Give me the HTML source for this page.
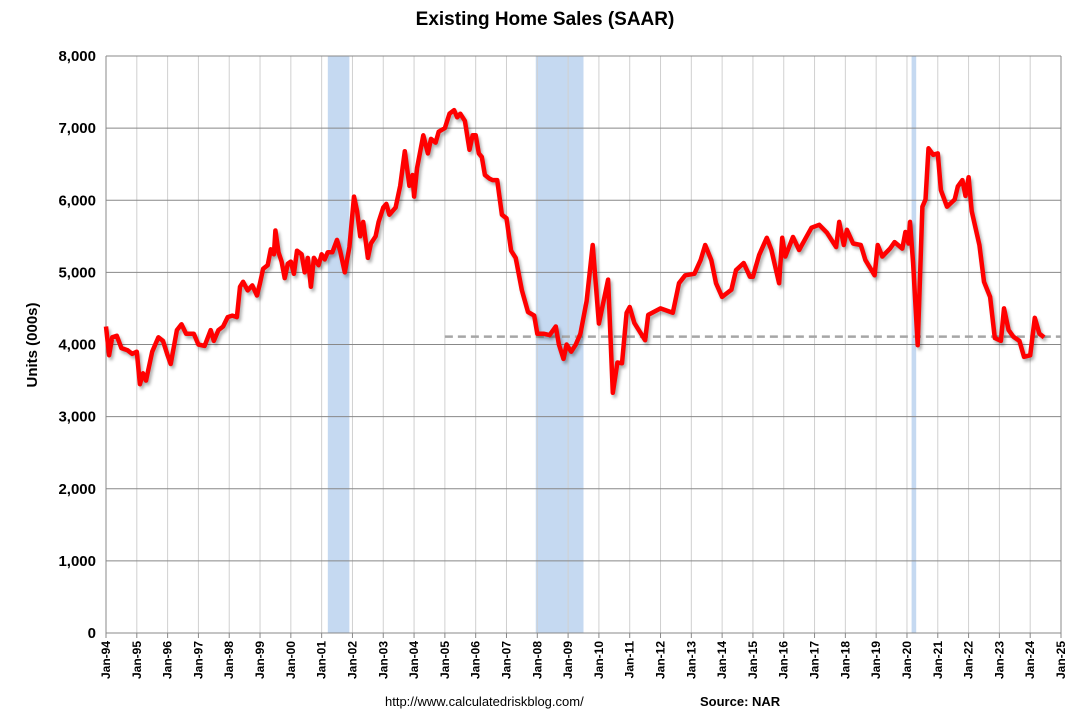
<!DOCTYPE html>
<html><head><meta charset="utf-8"><style>
body{margin:0;background:#fff;font-family:"Liberation Sans",Arial,sans-serif;}
</style></head><body>
<svg id="c" width="1084" height="717" xmlns="http://www.w3.org/2000/svg" style="display:block">
<defs><filter id="sh" x="-5%" y="-5%" width="110%" height="110%"><feGaussianBlur stdDeviation="1.5"/></filter></defs>
<text x="545" y="25" text-anchor="middle" font-size="19" font-weight="bold" fill="#000">Existing Home Sales (SAAR)</text>
<text transform="translate(37,345) rotate(-90)" text-anchor="middle" font-size="15" font-weight="bold">Units (000s)</text>
<text x="385" y="706" font-size="13">http://www.calculatedriskblog.com/</text>
<text x="700" y="706" font-size="13" font-weight="bold">Source: NAR</text>
</svg>
<script>
const dates=[1994.0,1994.1,1994.2,1994.35,1994.5,1994.7,1994.85,1995.0,1995.1,1995.2,1995.3,1995.5,1995.7,1995.85,1996.0,1996.1,1996.3,1996.45,1996.6,1996.85,1997.0,1997.2,1997.4,1997.5,1997.65,1997.8,1997.95,1998.1,1998.25,1998.35,1998.45,1998.6,1998.75,1998.9,1999.0,1999.1,1999.25,1999.35,1999.45,1999.5,1999.6,1999.7,1999.8,1999.9,2000.0,2000.1,2000.2,2000.35,2000.45,2000.55,2000.65,2000.75,2000.9,2001.0,2001.1,2001.2,2001.35,2001.5,2001.6,2001.75,2001.9,2002.05,2002.15,2002.25,2002.35,2002.5,2002.6,2002.75,2002.85,2003.0,2003.1,2003.2,2003.4,2003.55,2003.7,2003.85,2003.95,2004.0,2004.1,2004.3,2004.45,2004.55,2004.7,2004.8,2005.0,2005.15,2005.3,2005.4,2005.5,2005.65,2005.8,2005.9,2006.0,2006.1,2006.2,2006.3,2006.45,2006.55,2006.7,2006.85,2007.0,2007.15,2007.3,2007.5,2007.7,2007.9,2008.0,2008.2,2008.4,2008.6,2008.7,2008.85,2008.95,2009.1,2009.25,2009.4,2009.6,2009.8,2010.0,2010.3,2010.45,2010.6,2010.75,2010.9,2011.0,2011.15,2011.5,2011.6,2012.0,2012.4,2012.6,2012.8,2013.1,2013.3,2013.45,2013.65,2013.8,2014.0,2014.3,2014.45,2014.7,2014.9,2015.0,2015.2,2015.45,2015.6,2015.85,2015.95,2016.05,2016.3,2016.5,2016.9,2017.15,2017.4,2017.7,2017.8,2017.95,2018.05,2018.25,2018.5,2018.65,2018.95,2019.05,2019.2,2019.45,2019.6,2019.85,2019.95,2020.05,2020.1,2020.2,2020.35,2020.5,2020.6,2020.7,2020.85,2021.0,2021.1,2021.3,2021.55,2021.65,2021.8,2021.9,2022.0,2022.1,2022.35,2022.5,2022.7,2022.85,2023.05,2023.15,2023.3,2023.45,2023.65,2023.8,2024.0,2024.15,2024.3,2024.45];
const sales=[4250,3850,4100,4120,3950,3920,3870,3900,3450,3600,3500,3900,4100,4050,3850,3730,4200,4280,4150,4150,4000,3980,4200,4050,4200,4250,4380,4400,4380,4800,4870,4750,4820,4680,4850,5050,5100,5320,5250,5580,5280,5150,4920,5120,5150,4980,5300,5250,5000,5200,4800,5200,5100,5250,5180,5280,5280,5450,5300,5000,5350,6050,5850,5500,5700,5200,5400,5500,5700,5900,5950,5800,5900,6200,6680,6200,6350,6050,6450,6900,6650,6850,6800,6950,7000,7200,7250,7150,7200,7100,6700,6900,6900,6650,6600,6350,6300,6280,6280,5800,5750,5300,5200,4750,4450,4400,4150,4150,4130,4250,4000,3800,4000,3900,4000,4150,4600,5380,4290,4900,3330,3750,3740,4440,4520,4300,4060,4410,4500,4440,4850,4960,4980,5170,5380,5170,4850,4660,4760,5030,5130,4940,4940,5240,5480,5310,4850,5480,5220,5490,5310,5620,5660,5550,5350,5700,5380,5590,5400,5380,5170,4960,5380,5220,5330,5420,5330,5560,5400,5700,5130,3990,5910,6010,6720,6630,6650,6140,5910,6010,6190,6280,6060,6320,5850,5380,4870,4660,4090,4050,4500,4200,4110,4050,3830,3850,4370,4150,4100];
const yTicks=[0,1000,2000,3000,4000,5000,6000,7000,8000];
const xYears=[1994,1995,1996,1997,1998,1999,2000,2001,2002,2003,2004,2005,2006,2007,2008,2009,2010,2011,2012,2013,2014,2015,2016,2017,2018,2019,2020,2021,2022,2023,2024,2025];
const recessionStart=[2001.2,2007.95,2020.15];
const recessionEnd=[2001.9,2009.5,2020.3];
const refLevel=4110, refStart=2005;

const L=106,R=1061,T=56,B=633;
const xs=y=>L+(y-1994)/(2025-1994)*(R-L);
const ys=v=>B-v/8000*(B-T);
const svg=document.getElementById('c');const NS='http://www.w3.org/2000/svg';
function mk(t,a,p){const e=document.createElementNS(NS,t);for(const k in a)e.setAttribute(k,a[k]);(p||svg).appendChild(e);return e;}
recessionStart.forEach((s,i)=>{
 const r=mk('rect',{x:xs(s),y:T,width:xs(recessionEnd[i])-xs(s),height:B-T,fill:'#c5d9f1'});
 
 
});
xYears.forEach(y=>{
 const l=mk('line',{x1:xs(y),x2:xs(y),y1:T,y2:B,stroke:'#d0d0d0','stroke-width':1});
 
 
 const t=mk('text',{transform:`translate(${xs(y)+4},${B+8}) rotate(-90)`,'text-anchor':'end','font-size':12,'font-weight':'bold'});
 t.textContent='Jan-'+String(y).slice(2);
 
 
 mk('line',{x1:xs(y),x2:xs(y),y1:B,y2:B+5,stroke:'#888'});
});
yTicks.forEach(v=>{
 const l=mk('line',{x1:L,x2:R,y1:ys(v),y2:ys(v),stroke:'#888','stroke-width':1});
 
 
 const t=mk('text',{x:L-10,y:ys(v)+5,'text-anchor':'end','font-size':15,'font-weight':'bold'});
 t.textContent=v.toLocaleString('en-US');
 
 
});
mk('line',{x1:L,x2:L,y1:T,y2:B,stroke:'#888'});
mk('line',{x1:R,x2:R,y1:T,y2:B,stroke:'#888'});
const ref=mk('line',{x1:xs(refStart),x2:R,y1:ys(refLevel),y2:ys(refLevel),stroke:'#a6a6a6','stroke-width':2.5,'stroke-dasharray':'8,5'});


const d=dates.map((x,i)=>(i?'L':'M')+xs(x).toFixed(1)+','+ys(sales[i]).toFixed(1)).join('');
mk('path',{d:d,fill:'none',stroke:'#000','stroke-opacity':0.35,'stroke-width':4,transform:'translate(2,3)',filter:'url(#sh)','stroke-linejoin':'round'});
const p=mk('path',{d:d,fill:'none',stroke:'#ff0000','stroke-width':4.5,'stroke-linejoin':'round'});


</script>
</body></html>
